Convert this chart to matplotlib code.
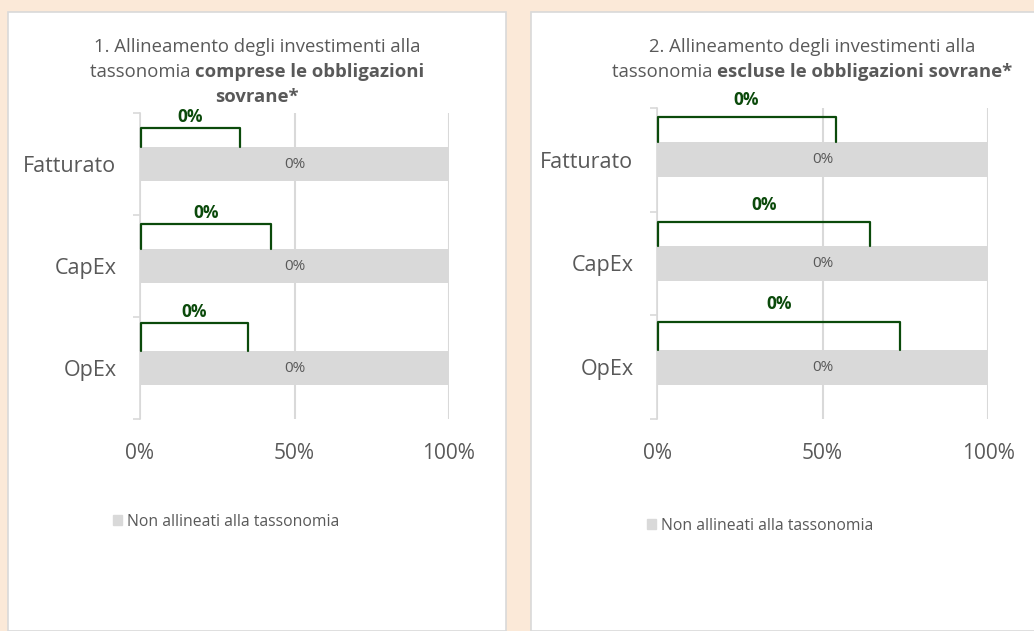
import matplotlib.pyplot as plt
from matplotlib.patches import Rectangle, Patch

# data
categories = ["Fatturato", "CapEx", "OpEx"]
non_aligned_1 = [100, 100, 100]
non_aligned_2 = [100, 100, 100]
bar_labels_1 = ["0%", "0%", "0%"]
bar_labels_2 = ["0%", "0%", "0%"]
aligned_labels_1 = ["0%", "0%", "0%"]
aligned_labels_2 = ["0%", "0%", "0%"]
# right end of the green brackets (in % of the axis)
bracket_end_1 = [32.5, 42.5, 35.0]
bracket_end_2 = [54.0, 64.5, 73.5]
xticks = [0, 50, 100]
xticklabels = ["0%", "50%", "100%"]
legend_label = "Non allineati alla tassonomia"

FONT = "Open Sans"
GREY_TXT = "#595959"
BAR = "#D9D9D9"
GREEN = "#0B4A0B"
W, H = 1034, 631

fig = plt.figure(figsize=(W / 100, H / 100), dpi=100)
fig.patch.set_facecolor("#FBE9D8")

# the two white cards
for x0, x1 in [(8, 506), (531, 1045)]:
    fig.patches.append(Rectangle((x0 / W, 0), (x1 - x0) / W, 1 - 12 / H,
                                 transform=fig.transFigure, facecolor="white",
                                 edgecolor="#D9D9D9", lw=1.2, zorder=-5))


def rich_line(y, xc, parts, size):
    # one centered title line made of normal and bold pieces
    r = fig.canvas.get_renderer()
    texts = []
    for s, w in parts:
        t = fig.text(0, 1 - y / H, s, fontsize=size, fontweight=w, color=GREY_TXT,
                     family=FONT, va="center", ha="left")
        texts.append(t)
    widths = [t.get_window_extent(r).width for t in texts]
    x = xc - sum(widths) / 2
    for t, wd in zip(texts, widths):
        t.set_x(x / W)
        x += wd


def panel(ax_px, values, bar_labels, labels, ends, heights, lab_off, leg_xy):
    l, r, t, b = ax_px
    ax = fig.add_axes([l / W, 1 - b / H, (r - l) / W, (b - t) / H])
    ax.set_facecolor("none")
    y = list(range(len(categories)))
    bars = ax.barh(y, values, height=0.34, color=BAR, label=legend_label, zorder=2)
    for rect, s in zip(bars, bar_labels):
        ax.text(50, rect.get_y() + rect.get_height() / 2, s, ha="center", va="center",
                fontsize=11, color=GREY_TXT, family=FONT, zorder=3)
    for i, (e, h, s) in enumerate(zip(ends, heights, labels)):
        yb = i - 0.17
        yt = yb - h
        ax.plot([0.4, 0.4, e, e], [yb, yt, yt, yb], color=GREEN, lw=1.6,
                solid_joinstyle="round", solid_capstyle="round", zorder=4, clip_on=False)
        ax.annotate(s, (e / 2, yt), xytext=(0, lab_off), textcoords="offset points",
                    ha="center", va="center", fontsize=12.5, fontweight="bold",
                    color=GREEN, family=FONT, annotation_clip=False)
    ax.set_xlim(0, 100)
    ax.set_ylim(len(categories) - 0.5, -0.5)
    ax.set_xticks(xticks)
    ax.set_xticklabels(xticklabels, fontsize=15, color=GREY_TXT, family=FONT)
    ax.set_yticks(y)
    ax.set_yticklabels(categories, fontsize=15.5, color=GREY_TXT, family=FONT)
    ax.set_yticks([i - 0.5 for i in range(len(categories) + 1)], minor=True)
    ax.tick_params(axis="x", length=0, pad=17)
    ax.tick_params(axis="y", which="major", length=0, pad=17)
    ax.tick_params(axis="y", which="minor", length=5, color=BAR, width=1.2)
    for sp in ["top", "right", "bottom"]:
        ax.spines[sp].set_visible(False)
    ax.spines["left"].set_color(BAR)
    ax.spines["left"].set_linewidth(1.2)
    ax.grid(axis="x", color=BAR, lw=1.5, zorder=1)
    ax.set_axisbelow(True)
    ax.legend(handles=[Patch(color=BAR, label=legend_label)], loc="center left",
              bbox_to_anchor=(leg_xy[0] / W, 1 - leg_xy[1] / H),
              bbox_transform=fig.transFigure, frameon=False, handlelength=0.6,
              handleheight=0.6, handletextpad=0.3, borderpad=0, borderaxespad=0,
              prop={"family": FONT, "size": 11.3}, labelcolor=GREY_TXT)
    return ax


panel((140, 449, 113, 419), non_aligned_1, bar_labels_1, aligned_labels_1,
      bracket_end_1, [0.18, 0.24, 0.27], 8, (113, 522))
panel((657, 988, 108, 419), non_aligned_2, bar_labels_2, aligned_labels_2,
      bracket_end_2, [0.24, 0.23, 0.27], 12.5, (647, 526))

TS = 13.3
rich_line(47, 257, [("1. Allineamento degli investimenti alla", "normal")], TS)
rich_line(72, 257, [("tassonomia ", "normal"), ("comprese le obbligazioni", "bold")], TS)
rich_line(97, 257, [("sovrane*", "bold")], TS)
rich_line(47, 812, [("2. Allineamento degli investimenti alla", "normal")], TS)
rich_line(72, 812, [("tassonomia ", "normal"), ("escluse le obbligazioni sovrane*", "bold")], TS)

fig.savefig("out.png", dpi=100, facecolor=fig.get_facecolor())
